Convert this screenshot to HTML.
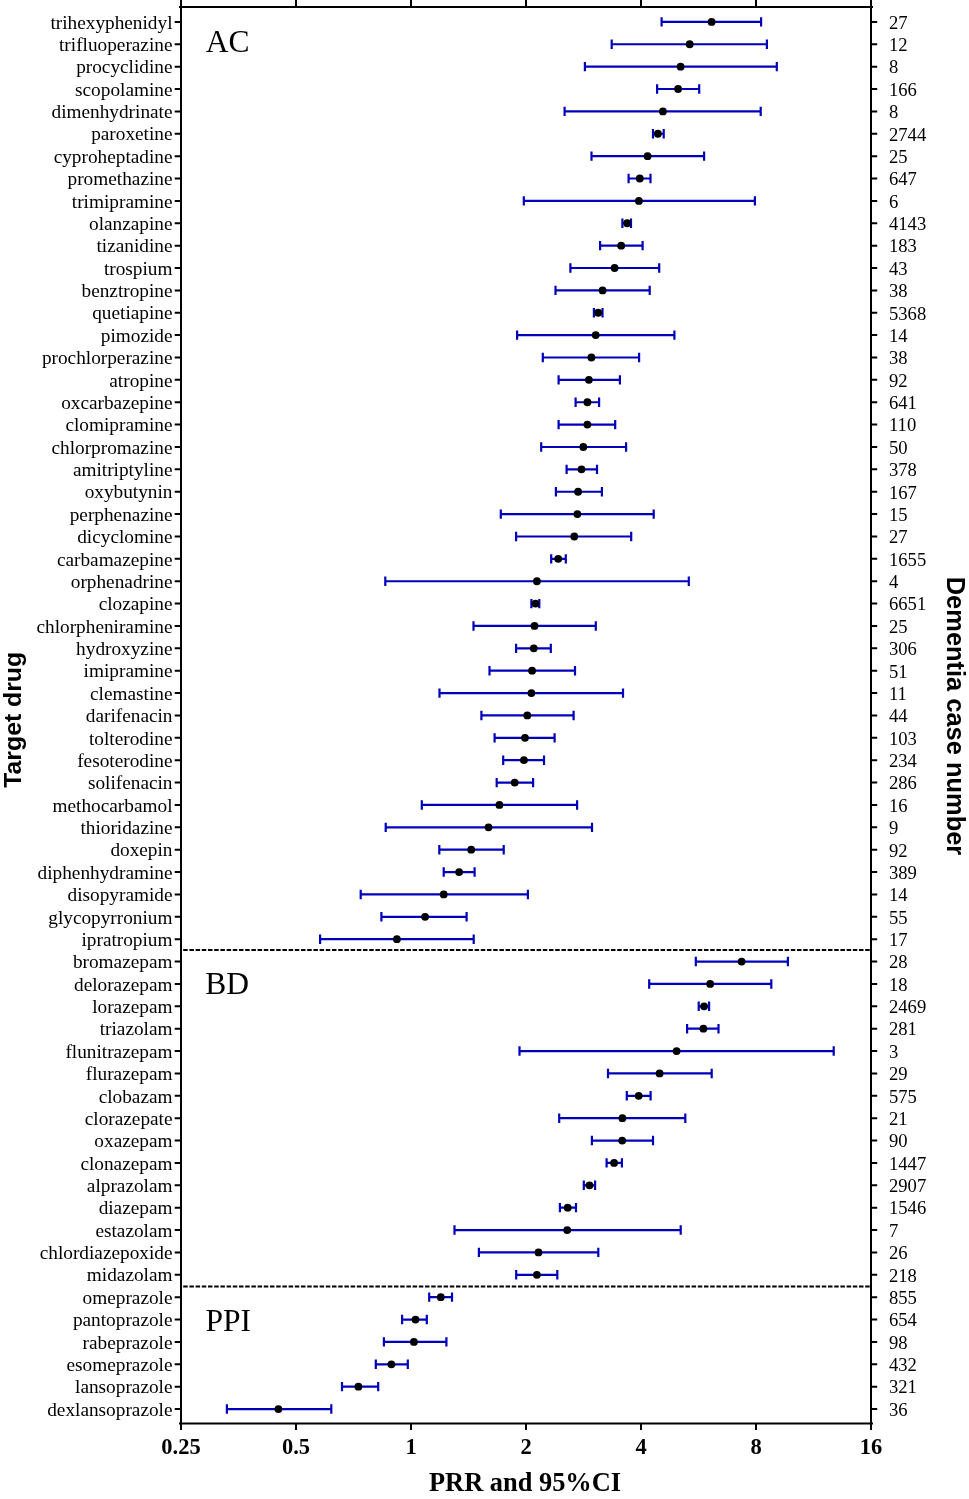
<!DOCTYPE html><html><head><meta charset="utf-8"><style>html,body{margin:0;padding:0;background:#fff}svg{display:block} text{-webkit-font-smoothing:antialiased}</style></head><body>
<svg style="will-change:transform" width="969" height="1499" viewBox="0 0 969 1499">
<rect width="969" height="1499" fill="#fff"/>
<path d="M181 0V1430.0 M871 0V1430.0 M179 7H873 M179 1423.6H873 M296 0V7 M296 1423.6V1430.0 M411 0V7 M411 1423.6V1430.0 M526 0V7 M526 1423.6V1430.0 M641 0V7 M641 1423.6V1430.0 M756 0V7 M756 1423.6V1430.0 M174.7 21.9H181 M871 21.9H877.2 M174.7 44.27H181 M871 44.27H877.2 M174.7 66.65H181 M871 66.65H877.2 M174.7 89.02H181 M871 89.02H877.2 M174.7 111.39H181 M871 111.39H877.2 M174.7 133.77H181 M871 133.77H877.2 M174.7 156.14H181 M871 156.14H877.2 M174.7 178.51H181 M871 178.51H877.2 M174.7 200.88H181 M871 200.88H877.2 M174.7 223.26H181 M871 223.26H877.2 M174.7 245.63H181 M871 245.63H877.2 M174.7 268.0H181 M871 268.0H877.2 M174.7 290.38H181 M871 290.38H877.2 M174.7 312.75H181 M871 312.75H877.2 M174.7 335.12H181 M871 335.12H877.2 M174.7 357.5H181 M871 357.5H877.2 M174.7 379.87H181 M871 379.87H877.2 M174.7 402.24H181 M871 402.24H877.2 M174.7 424.61H181 M871 424.61H877.2 M174.7 446.99H181 M871 446.99H877.2 M174.7 469.36H181 M871 469.36H877.2 M174.7 491.73H181 M871 491.73H877.2 M174.7 514.11H181 M871 514.11H877.2 M174.7 536.48H181 M871 536.48H877.2 M174.7 558.85H181 M871 558.85H877.2 M174.7 581.23H181 M871 581.23H877.2 M174.7 603.6H181 M871 603.6H877.2 M174.7 625.97H181 M871 625.97H877.2 M174.7 648.34H181 M871 648.34H877.2 M174.7 670.72H181 M871 670.72H877.2 M174.7 693.09H181 M871 693.09H877.2 M174.7 715.46H181 M871 715.46H877.2 M174.7 737.84H181 M871 737.84H877.2 M174.7 760.21H181 M871 760.21H877.2 M174.7 782.58H181 M871 782.58H877.2 M174.7 804.96H181 M871 804.96H877.2 M174.7 827.33H181 M871 827.33H877.2 M174.7 849.7H181 M871 849.7H877.2 M174.7 872.07H181 M871 872.07H877.2 M174.7 894.45H181 M871 894.45H877.2 M174.7 916.82H181 M871 916.82H877.2 M174.7 939.19H181 M871 939.19H877.2 M174.7 961.57H181 M871 961.57H877.2 M174.7 983.94H181 M871 983.94H877.2 M174.7 1006.31H181 M871 1006.31H877.2 M174.7 1028.69H181 M871 1028.69H877.2 M174.7 1051.06H181 M871 1051.06H877.2 M174.7 1073.43H181 M871 1073.43H877.2 M174.7 1095.8H181 M871 1095.8H877.2 M174.7 1118.18H181 M871 1118.18H877.2 M174.7 1140.55H181 M871 1140.55H877.2 M174.7 1162.92H181 M871 1162.92H877.2 M174.7 1185.3H181 M871 1185.3H877.2 M174.7 1207.67H181 M871 1207.67H877.2 M174.7 1230.04H181 M871 1230.04H877.2 M174.7 1252.42H181 M871 1252.42H877.2 M174.7 1274.79H181 M871 1274.79H877.2 M174.7 1297.16H181 M871 1297.16H877.2 M174.7 1319.53H181 M871 1319.53H877.2 M174.7 1341.91H181 M871 1341.91H877.2 M174.7 1364.28H181 M871 1364.28H877.2 M174.7 1386.65H181 M871 1386.65H877.2 M174.7 1409.03H181 M871 1409.03H877.2" stroke="#000" stroke-width="2" fill="none"/>
<path d="M183.2 950.0H870" stroke="#000" stroke-width="2" stroke-dasharray="4.5 1.7" fill="none"/>
<path d="M183.2 1286.5H870" stroke="#000" stroke-width="2" stroke-dasharray="4.5 1.7" fill="none"/>
<path d="M661.6 21.9H761.1M661.6 17.2V26.599999999999998M761.1 17.2V26.599999999999998M611.7 44.27H766.9M611.7 39.57V48.970000000000006M766.9 39.57V48.970000000000006M584.9 66.65H776.8M584.9 61.95V71.35000000000001M776.8 61.95V71.35000000000001M657.1 89.02H699.2M657.1 84.32V93.72M699.2 84.32V93.72M564.6 111.39H760.7M564.6 106.69V116.09M760.7 106.69V116.09M653.0 133.77H663.7M653.0 129.07000000000002V138.47M663.7 129.07000000000002V138.47M591.5 156.14H704.1M591.5 151.44V160.83999999999997M704.1 151.44V160.83999999999997M628.6 178.51H650.5M628.6 173.81V183.20999999999998M650.5 173.81V183.20999999999998M523.8 200.88H754.9M523.8 196.18V205.57999999999998M754.9 196.18V205.57999999999998M622.4 223.26H631.0M622.4 218.56V227.95999999999998M631.0 218.56V227.95999999999998M600.1 245.63H642.6M600.1 240.93V250.32999999999998M642.6 240.93V250.32999999999998M570.4 268.0H659.2M570.4 263.3V272.7M659.2 263.3V272.7M555.5 290.38H649.7M555.5 285.68V295.08M649.7 285.68V295.08M593.9 312.75H602.5M593.9 308.05V317.45M602.5 308.05V317.45M517.1 335.12H674.4M517.1 330.42V339.82M674.4 330.42V339.82M542.8 357.5H639.1M542.8 352.8V362.2M639.1 352.8V362.2M558.6 379.87H619.9M558.6 375.17V384.57M619.9 375.17V384.57M575.6 402.24H599.1M575.6 397.54V406.94M599.1 397.54V406.94M558.6 424.61H615.2M558.6 419.91V429.31M615.2 419.91V429.31M541.2 446.99H626.1M541.2 442.29V451.69M626.1 442.29V451.69M566.6 469.36H597.0M566.6 464.66V474.06M597.0 464.66V474.06M555.9 491.73H601.9M555.9 487.03000000000003V496.43M601.9 487.03000000000003V496.43M500.8 514.11H653.7M500.8 509.41V518.8100000000001M653.7 509.41V518.8100000000001M516.1 536.48H631.2M516.1 531.78V541.1800000000001M631.2 531.78V541.1800000000001M551.2 558.85H565.8M551.2 554.15V563.5500000000001M565.8 554.15V563.5500000000001M385.3 581.23H688.8M385.3 576.53V585.9300000000001M688.8 576.53V585.9300000000001M531.4 603.6H539.3M531.4 598.9V608.3000000000001M539.3 598.9V608.3000000000001M473.5 625.97H595.8M473.5 621.27V630.6700000000001M595.8 621.27V630.6700000000001M516.1 648.34H550.8M516.1 643.64V653.0400000000001M550.8 643.64V653.0400000000001M489.5 670.72H575.0M489.5 666.02V675.4200000000001M575.0 666.02V675.4200000000001M439.5 693.09H623.0M439.5 688.39V697.7900000000001M623.0 688.39V697.7900000000001M481.4 715.46H573.6M481.4 710.76V720.1600000000001M573.6 710.76V720.1600000000001M494.6 737.84H554.6M494.6 733.14V742.5400000000001M554.6 733.14V742.5400000000001M503.2 760.21H544.0M503.2 755.51V764.9100000000001M544.0 755.51V764.9100000000001M496.7 782.58H533.1M496.7 777.88V787.2800000000001M533.1 777.88V787.2800000000001M421.8 804.96H577.1M421.8 800.26V809.6600000000001M577.1 800.26V809.6600000000001M385.7 827.33H592.0M385.7 822.63V832.0300000000001M592.0 822.63V832.0300000000001M439.3 849.7H503.7M439.3 845.0V854.4000000000001M503.7 845.0V854.4000000000001M443.7 872.07H474.6M443.7 867.37V876.7700000000001M474.6 867.37V876.7700000000001M360.7 894.45H527.9M360.7 889.75V899.1500000000001M527.9 889.75V899.1500000000001M381.4 916.82H466.6M381.4 912.12V921.5200000000001M466.6 912.12V921.5200000000001M320.1 939.19H473.7M320.1 934.49V943.8900000000001M473.7 934.49V943.8900000000001M695.8 961.57H787.9M695.8 956.87V966.2700000000001M787.9 956.87V966.2700000000001M649.2 983.94H771.3M649.2 979.24V988.6400000000001M771.3 979.24V988.6400000000001M698.7 1006.31H709.1M698.7 1001.6099999999999V1011.01M709.1 1001.6099999999999V1011.01M687.1 1028.69H718.5M687.1 1023.99V1033.39M718.5 1023.99V1033.39M519.5 1051.06H833.7M519.5 1046.36V1055.76M833.7 1046.36V1055.76M608.0 1073.43H711.7M608.0 1068.73V1078.13M711.7 1068.73V1078.13M626.8 1095.8H650.6M626.8 1091.1V1100.5M650.6 1091.1V1100.5M559.2 1118.18H685.3M559.2 1113.48V1122.88M685.3 1113.48V1122.88M591.9 1140.55H653.0M591.9 1135.85V1145.25M653.0 1135.85V1145.25M606.6 1162.92H621.9M606.6 1158.22V1167.6200000000001M621.9 1158.22V1167.6200000000001M583.8 1185.3H595.1M583.8 1180.6V1190.0M595.1 1180.6V1190.0M559.9 1207.67H576.0M559.9 1202.97V1212.3700000000001M576.0 1202.97V1212.3700000000001M454.5 1230.04H680.7M454.5 1225.34V1234.74M680.7 1225.34V1234.74M478.9 1252.42H598.3M478.9 1247.72V1257.1200000000001M598.3 1247.72V1257.1200000000001M516.2 1274.79H557.3M516.2 1270.09V1279.49M557.3 1270.09V1279.49M429.2 1297.16H452.0M429.2 1292.46V1301.8600000000001M452.0 1292.46V1301.8600000000001M402.1 1319.53H426.8M402.1 1314.83V1324.23M426.8 1314.83V1324.23M383.9 1341.91H446.4M383.9 1337.21V1346.6100000000001M446.4 1337.21V1346.6100000000001M375.8 1364.28H407.8M375.8 1359.58V1368.98M407.8 1359.58V1368.98M342.0 1386.65H378.2M342.0 1381.95V1391.3500000000001M378.2 1381.95V1391.3500000000001M226.9 1409.03H331.3M226.9 1404.33V1413.73M331.3 1404.33V1413.73" stroke="#0000bb" stroke-width="2.2" fill="none"/>
<g fill="#000"><circle cx="711.6" cy="21.9" r="3.9"/><circle cx="689.7" cy="44.27" r="3.9"/><circle cx="680.6" cy="66.65" r="3.9"/><circle cx="678.1" cy="89.02" r="3.9"/><circle cx="662.9" cy="111.39" r="3.9"/><circle cx="657.9" cy="133.77" r="3.9"/><circle cx="647.6" cy="156.14" r="3.9"/><circle cx="639.8" cy="178.51" r="3.9"/><circle cx="638.9" cy="200.88" r="3.9"/><circle cx="627.2" cy="223.26" r="3.9"/><circle cx="621.2" cy="245.63" r="3.9"/><circle cx="614.6" cy="268.0" r="3.9"/><circle cx="602.6" cy="290.38" r="3.9"/><circle cx="598.2" cy="312.75" r="3.9"/><circle cx="595.7" cy="335.12" r="3.9"/><circle cx="591.4" cy="357.5" r="3.9"/><circle cx="588.9" cy="379.87" r="3.9"/><circle cx="587.4" cy="402.24" r="3.9"/><circle cx="587.4" cy="424.61" r="3.9"/><circle cx="583.3" cy="446.99" r="3.9"/><circle cx="581.5" cy="469.36" r="3.9"/><circle cx="578.1" cy="491.73" r="3.9"/><circle cx="577.4" cy="514.11" r="3.9"/><circle cx="574.3" cy="536.48" r="3.9"/><circle cx="558.2" cy="558.85" r="3.9"/><circle cx="536.9" cy="581.23" r="3.9"/><circle cx="535.5" cy="603.6" r="3.9"/><circle cx="534.5" cy="625.97" r="3.9"/><circle cx="533.8" cy="648.34" r="3.9"/><circle cx="532.1" cy="670.72" r="3.9"/><circle cx="531.4" cy="693.09" r="3.9"/><circle cx="527.3" cy="715.46" r="3.9"/><circle cx="525.0" cy="737.84" r="3.9"/><circle cx="523.9" cy="760.21" r="3.9"/><circle cx="514.7" cy="782.58" r="3.9"/><circle cx="499.4" cy="804.96" r="3.9"/><circle cx="488.5" cy="827.33" r="3.9"/><circle cx="471.2" cy="849.7" r="3.9"/><circle cx="459.1" cy="872.07" r="3.9"/><circle cx="443.7" cy="894.45" r="3.9"/><circle cx="425.1" cy="916.82" r="3.9"/><circle cx="396.9" cy="939.19" r="3.9"/><circle cx="741.6" cy="961.57" r="3.9"/><circle cx="710.2" cy="983.94" r="3.9"/><circle cx="704.1" cy="1006.31" r="3.9"/><circle cx="703.4" cy="1028.69" r="3.9"/><circle cx="676.6" cy="1051.06" r="3.9"/><circle cx="659.6" cy="1073.43" r="3.9"/><circle cx="638.7" cy="1095.8" r="3.9"/><circle cx="622.4" cy="1118.18" r="3.9"/><circle cx="622.2" cy="1140.55" r="3.9"/><circle cx="614.1" cy="1162.92" r="3.9"/><circle cx="589.5" cy="1185.3" r="3.9"/><circle cx="567.7" cy="1207.67" r="3.9"/><circle cx="567.2" cy="1230.04" r="3.9"/><circle cx="538.5" cy="1252.42" r="3.9"/><circle cx="536.9" cy="1274.79" r="3.9"/><circle cx="440.8" cy="1297.16" r="3.9"/><circle cx="415.5" cy="1319.53" r="3.9"/><circle cx="413.9" cy="1341.91" r="3.9"/><circle cx="391.4" cy="1364.28" r="3.9"/><circle cx="358.4" cy="1386.65" r="3.9"/><circle cx="278.4" cy="1409.03" r="3.9"/></g>
<g font-family="Liberation Serif" font-size="19.3" fill="#000"><text x="172.5" y="28.6" text-anchor="end">trihexyphenidyl</text><text x="889.0" y="28.7" font-size="18.6">27</text><text x="172.5" y="50.97" text-anchor="end">trifluoperazine</text><text x="889.0" y="51.07" font-size="18.6">12</text><text x="172.5" y="73.35" text-anchor="end">procyclidine</text><text x="889.0" y="73.45" font-size="18.6">8</text><text x="172.5" y="95.72" text-anchor="end">scopolamine</text><text x="889.0" y="95.82" font-size="18.6">166</text><text x="172.5" y="118.09" text-anchor="end">dimenhydrinate</text><text x="889.0" y="118.19" font-size="18.6">8</text><text x="172.5" y="140.47" text-anchor="end">paroxetine</text><text x="889.0" y="140.57" font-size="18.6">2744</text><text x="172.5" y="162.84" text-anchor="end">cyproheptadine</text><text x="889.0" y="162.94" font-size="18.6">25</text><text x="172.5" y="185.21" text-anchor="end">promethazine</text><text x="889.0" y="185.31" font-size="18.6">647</text><text x="172.5" y="207.58" text-anchor="end">trimipramine</text><text x="889.0" y="207.68" font-size="18.6">6</text><text x="172.5" y="229.96" text-anchor="end">olanzapine</text><text x="889.0" y="230.06" font-size="18.6">4143</text><text x="172.5" y="252.33" text-anchor="end">tizanidine</text><text x="889.0" y="252.43" font-size="18.6">183</text><text x="172.5" y="274.7" text-anchor="end">trospium</text><text x="889.0" y="274.8" font-size="18.6">43</text><text x="172.5" y="297.08" text-anchor="end">benztropine</text><text x="889.0" y="297.18" font-size="18.6">38</text><text x="172.5" y="319.45" text-anchor="end">quetiapine</text><text x="889.0" y="319.55" font-size="18.6">5368</text><text x="172.5" y="341.82" text-anchor="end">pimozide</text><text x="889.0" y="341.92" font-size="18.6">14</text><text x="172.5" y="364.19" text-anchor="end">prochlorperazine</text><text x="889.0" y="364.29" font-size="18.6">38</text><text x="172.5" y="386.57" text-anchor="end">atropine</text><text x="889.0" y="386.67" font-size="18.6">92</text><text x="172.5" y="408.94" text-anchor="end">oxcarbazepine</text><text x="889.0" y="409.04" font-size="18.6">641</text><text x="172.5" y="431.31" text-anchor="end">clomipramine</text><text x="889.0" y="431.41" font-size="18.6">110</text><text x="172.5" y="453.69" text-anchor="end">chlorpromazine</text><text x="889.0" y="453.79" font-size="18.6">50</text><text x="172.5" y="476.06" text-anchor="end">amitriptyline</text><text x="889.0" y="476.16" font-size="18.6">378</text><text x="172.5" y="498.43" text-anchor="end">oxybutynin</text><text x="889.0" y="498.53" font-size="18.6">167</text><text x="172.5" y="520.81" text-anchor="end">perphenazine</text><text x="889.0" y="520.91" font-size="18.6">15</text><text x="172.5" y="543.18" text-anchor="end">dicyclomine</text><text x="889.0" y="543.28" font-size="18.6">27</text><text x="172.5" y="565.55" text-anchor="end">carbamazepine</text><text x="889.0" y="565.65" font-size="18.6">1655</text><text x="172.5" y="587.93" text-anchor="end">orphenadrine</text><text x="889.0" y="588.03" font-size="18.6">4</text><text x="172.5" y="610.3" text-anchor="end">clozapine</text><text x="889.0" y="610.4" font-size="18.6">6651</text><text x="172.5" y="632.67" text-anchor="end">chlorpheniramine</text><text x="889.0" y="632.77" font-size="18.6">25</text><text x="172.5" y="655.04" text-anchor="end">hydroxyzine</text><text x="889.0" y="655.14" font-size="18.6">306</text><text x="172.5" y="677.42" text-anchor="end">imipramine</text><text x="889.0" y="677.52" font-size="18.6">51</text><text x="172.5" y="699.79" text-anchor="end">clemastine</text><text x="889.0" y="699.89" font-size="18.6">11</text><text x="172.5" y="722.16" text-anchor="end">darifenacin</text><text x="889.0" y="722.26" font-size="18.6">44</text><text x="172.5" y="744.54" text-anchor="end">tolterodine</text><text x="889.0" y="744.64" font-size="18.6">103</text><text x="172.5" y="766.91" text-anchor="end">fesoterodine</text><text x="889.0" y="767.01" font-size="18.6">234</text><text x="172.5" y="789.28" text-anchor="end">solifenacin</text><text x="889.0" y="789.38" font-size="18.6">286</text><text x="172.5" y="811.66" text-anchor="end">methocarbamol</text><text x="889.0" y="811.76" font-size="18.6">16</text><text x="172.5" y="834.03" text-anchor="end">thioridazine</text><text x="889.0" y="834.13" font-size="18.6">9</text><text x="172.5" y="856.4" text-anchor="end">doxepin</text><text x="889.0" y="856.5" font-size="18.6">92</text><text x="172.5" y="878.77" text-anchor="end">diphenhydramine</text><text x="889.0" y="878.87" font-size="18.6">389</text><text x="172.5" y="901.15" text-anchor="end">disopyramide</text><text x="889.0" y="901.25" font-size="18.6">14</text><text x="172.5" y="923.52" text-anchor="end">glycopyrronium</text><text x="889.0" y="923.62" font-size="18.6">55</text><text x="172.5" y="945.89" text-anchor="end">ipratropium</text><text x="889.0" y="945.99" font-size="18.6">17</text><text x="172.5" y="968.27" text-anchor="end">bromazepam</text><text x="889.0" y="968.37" font-size="18.6">28</text><text x="172.5" y="990.64" text-anchor="end">delorazepam</text><text x="889.0" y="990.74" font-size="18.6">18</text><text x="172.5" y="1013.01" text-anchor="end">lorazepam</text><text x="889.0" y="1013.11" font-size="18.6">2469</text><text x="172.5" y="1035.39" text-anchor="end">triazolam</text><text x="889.0" y="1035.49" font-size="18.6">281</text><text x="172.5" y="1057.76" text-anchor="end">flunitrazepam</text><text x="889.0" y="1057.86" font-size="18.6">3</text><text x="172.5" y="1080.13" text-anchor="end">flurazepam</text><text x="889.0" y="1080.23" font-size="18.6">29</text><text x="172.5" y="1102.5" text-anchor="end">clobazam</text><text x="889.0" y="1102.6" font-size="18.6">575</text><text x="172.5" y="1124.88" text-anchor="end">clorazepate</text><text x="889.0" y="1124.98" font-size="18.6">21</text><text x="172.5" y="1147.25" text-anchor="end">oxazepam</text><text x="889.0" y="1147.35" font-size="18.6">90</text><text x="172.5" y="1169.62" text-anchor="end">clonazepam</text><text x="889.0" y="1169.72" font-size="18.6">1447</text><text x="172.5" y="1192.0" text-anchor="end">alprazolam</text><text x="889.0" y="1192.1" font-size="18.6">2907</text><text x="172.5" y="1214.37" text-anchor="end">diazepam</text><text x="889.0" y="1214.47" font-size="18.6">1546</text><text x="172.5" y="1236.74" text-anchor="end">estazolam</text><text x="889.0" y="1236.84" font-size="18.6">7</text><text x="172.5" y="1259.12" text-anchor="end">chlordiazepoxide</text><text x="889.0" y="1259.22" font-size="18.6">26</text><text x="172.5" y="1281.49" text-anchor="end">midazolam</text><text x="889.0" y="1281.59" font-size="18.6">218</text><text x="172.5" y="1303.86" text-anchor="end">omeprazole</text><text x="889.0" y="1303.96" font-size="18.6">855</text><text x="172.5" y="1326.23" text-anchor="end">pantoprazole</text><text x="889.0" y="1326.33" font-size="18.6">654</text><text x="172.5" y="1348.61" text-anchor="end">rabeprazole</text><text x="889.0" y="1348.71" font-size="18.6">98</text><text x="172.5" y="1370.98" text-anchor="end">esomeprazole</text><text x="889.0" y="1371.08" font-size="18.6">432</text><text x="172.5" y="1393.35" text-anchor="end">lansoprazole</text><text x="889.0" y="1393.45" font-size="18.6">321</text><text x="172.5" y="1415.73" text-anchor="end">dexlansoprazole</text><text x="889.0" y="1415.83" font-size="18.6">36</text></g>
<g font-family="Liberation Serif" font-size="31.5" fill="#000"><text x="205.8" y="52">AC</text><text x="205.3" y="993.8">BD</text><text x="205.5" y="1330.9">PPI</text></g>
<g font-family="Liberation Serif" font-weight="bold" font-size="22.5" fill="#000"><text x="181" y="1454" text-anchor="middle">0.25</text><text x="296" y="1454" text-anchor="middle">0.5</text><text x="411" y="1454" text-anchor="middle">1</text><text x="526" y="1454" text-anchor="middle">2</text><text x="641" y="1454" text-anchor="middle">4</text><text x="756" y="1454" text-anchor="middle">8</text><text x="871" y="1454" text-anchor="middle">16</text></g>
<text x="525" y="1491.2" text-anchor="middle" font-family="Liberation Serif" font-weight="bold" font-size="26.4" fill="#000">PRR and 95%CI</text>
<text transform="translate(21.0 719.8) rotate(-90)" text-anchor="middle" font-family="Liberation Sans" font-weight="bold" font-size="24.8" fill="#000">Target drug</text>
<text transform="translate(947.0 716.0) rotate(90)" text-anchor="middle" font-family="Liberation Sans" font-weight="bold" font-size="25.45" fill="#000">Dementia case number</text>
</svg></body></html>
